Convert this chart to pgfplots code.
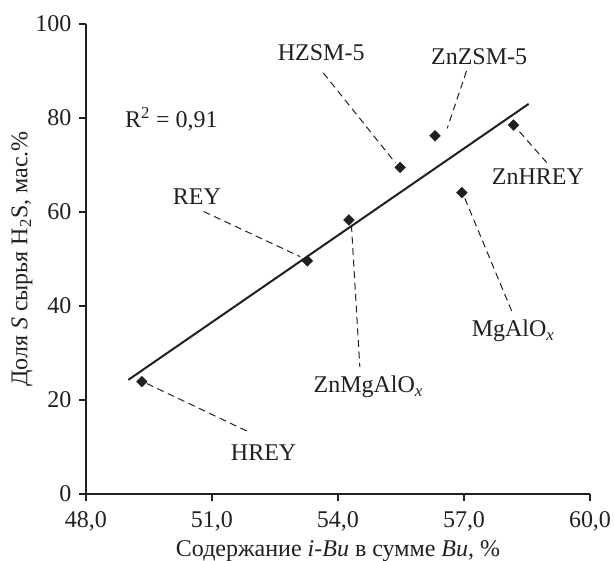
\documentclass[border=0pt]{standalone}
\usepackage{fontspec}
\setmainfont{Liberation Serif}
\usepackage{pgfplots}
\pgfplotsset{compat=1.18}
\definecolor{ink}{HTML}{231F20}
\begin{document}
\begin{tikzpicture}[font=\fontsize{24}{28}\selectfont, color=ink]
\path[use as bounding box] (-86pt,-67pt) rectangle (528pt,494pt);
\begin{axis}[
  at={(0,0)}, anchor=south west,
  scale only axis, width=504pt, height=470pt,
  xmin=48, xmax=60, ymin=0, ymax=100,
  axis lines=left, axis line style={-, line width=1.4pt, ink},
  tick align=outside, major tick length=7pt,
  every tick/.style={line width=1.2pt, ink},
  xtick={48,51,54,57,60}, ytick={0,20,40,60,80,100},
  /pgf/number format/assume math mode=true,
  xticklabel style={yshift=-7pt, /pgf/number format/.cd, fixed, fixed zerofill, precision=1, use comma},
  yticklabel style={xshift=-4pt, /pgf/number format/.cd, fixed, precision=0},
  xlabel={Содержание \textit{i-Bu} в сумме \textit{Bu}, \%},
  ylabel={Доля \textit{S} сырья H\textsubscript{2}S, мас.\%},
  xlabel style={yshift=-2pt},
  ylabel style={yshift=-4pt},
  clip=false,
]
% regression line
\addplot[line width=2pt, ink] coordinates {(49.01,24.3) (58.54,83.0)};
% leader lines
\addplot[line width=1pt, ink, dash pattern=on 7pt off 4.5pt] coordinates {(53.65,89.6) (55.37,70.4)};
\addplot[line width=1pt, ink, dash pattern=on 7pt off 4.5pt] coordinates {(57.06,90.0) (56.6,77.8)};
\addplot[line width=1pt, ink, dash pattern=on 7pt off 4.5pt] coordinates {(58.32,77.1) (59.03,69.9)};
\addplot[line width=1pt, ink, dash pattern=on 7pt off 4.5pt] coordinates {(57.02,62.9) (58.16,38.4)};
\addplot[line width=1pt, ink, dash pattern=on 7pt off 4.5pt] coordinates {(54.32,57.2) (54.52,27.0)};
\addplot[line width=1pt, ink, dash pattern=on 7pt off 4.5pt] coordinates {(50.80,60.1) (53.10,50.5)};
\addplot[line width=1pt, ink, dash pattern=on 7pt off 4.5pt] coordinates {(49.45,23.5) (51.85,13.3)};
% data points
\addplot[only marks, mark=square*, mark size=3.8pt, ink, mark options={fill=ink, rotate=45}] coordinates {
(49.33,23.9) (53.27,49.6) (54.26,58.3) (55.48,69.5) (56.31,76.2) (56.95,64.1) (58.18,78.5)
};
% labels
\node at (axis cs:53.6,93.9) {HZSM-5};
\node at (axis cs:57.36,93.0) {ZnZSM-5};
\node at (axis cs:58.76,67.5) {ZnHREY};
\node at (axis cs:58.17,34.7) {MgAlO\textsubscript{\textit{x}}};
\node at (axis cs:54.72,22.8) {ZnMgAlO\textsubscript{\textit{x}}};
\node at (axis cs:50.64,63.3) {REY};
\node at (axis cs:52.23,8.9) {HREY};
\node[anchor=west] at (axis cs:48.85,79.8) {R\textsuperscript{2} = 0,91};
\end{axis}
\end{tikzpicture}
\end{document}
